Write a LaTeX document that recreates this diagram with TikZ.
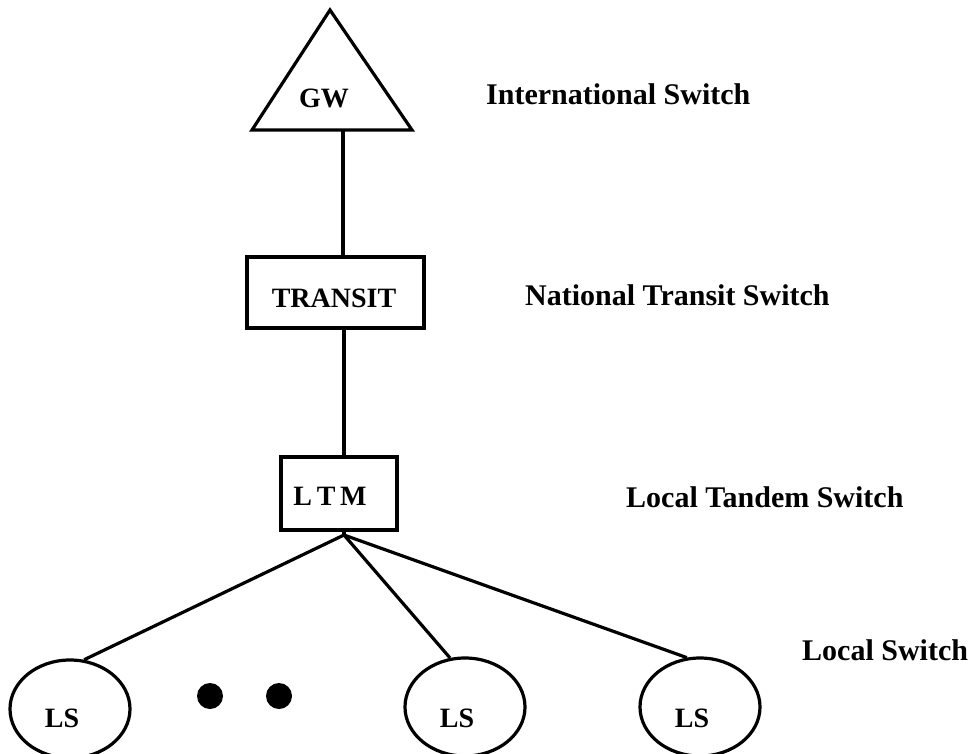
\documentclass[tikz,border=0pt]{standalone}
\usepackage{fontspec}
\setmainfont{Liberation Serif}
\usetikzlibrary{shapes.geometric}
\begin{document}
\begin{tikzpicture}[x=1pt,y=-1pt,
  link/.style={line width=3.2pt},
  switchbox/.style={draw,line width=3.2pt,rectangle,inner sep=0pt},
  lsnode/.style={draw,line width=3.2pt,ellipse,inner sep=0pt,minimum width=120pt,minimum height=98pt},
  boxtext/.style={inner sep=0pt,font=\fontsize{28}{32}\selectfont\bfseries},
  leveltext/.style={anchor=base west,inner sep=0pt,font=\fontsize{30}{36}\selectfont\bfseries},
  dotmark/.style={fill=black,circle,inner sep=0pt,minimum size=26pt}]
\useasboundingbox (0,0) rectangle (974,754);

% international gateway (triangle)
\coordinate (apex) at (330,10);
\coordinate (bl) at (252,130);
\coordinate (br) at (412,130);
\draw[line width=3.2pt,line join=miter] (apex) -- (bl) -- (br) -- cycle;
\node[boxtext] (gw) at (324,98) {GW};
\coordinate (gwbase) at (343,130);

% national transit and local tandem switches
\node[switchbox,minimum width=177pt,minimum height=71pt] (transit) at (335.5,292.5) {};
\node[boxtext] (transittext) at (334,298) {TRANSIT};
\node[switchbox,minimum width=116pt,minimum height=73pt] (ltm) at (339,493.5) {};
\node[boxtext] (ltmtext) at (330,496) {L\,T\,M};
\coordinate (fan) at (344,535);

% local switches
\node[lsnode] (ls1) at (70,709) {};
\node[lsnode] (ls2) at (465,707) {};
\node[lsnode] (ls3) at (700,707) {};
\node[boxtext] (ls1text) at (62,718) {LS};
\node[boxtext] (ls2text) at (457,718) {LS};
\node[boxtext] (ls3text) at (692,718) {LS};
\node[dotmark] (d1) at (210,696) {};
\node[dotmark] (d2) at (279,696) {};

% connectors
\draw[link] (gwbase) -- (gwbase |- transit.north);
\draw[link] (transit.south -| fan) -- (ltm.north -| fan);
\draw[link] (ltm.south -| fan) -- (fan);
\draw[link] (fan) -- (ls1.74);
\draw[link] (fan) -- (ls2.107);
\draw[link] (fan) -- (ls3.105);

% level labels
\node[leveltext] (lint) at (486,105) {International Switch};
\node[leveltext] (lnat) at (525,305) {National Transit Switch};
\node[leveltext] (ltan) at (626,507) {Local Tandem Switch};
\node[leveltext] (lloc) at (802,660) {Local Switch};
\end{tikzpicture}
\end{document}
